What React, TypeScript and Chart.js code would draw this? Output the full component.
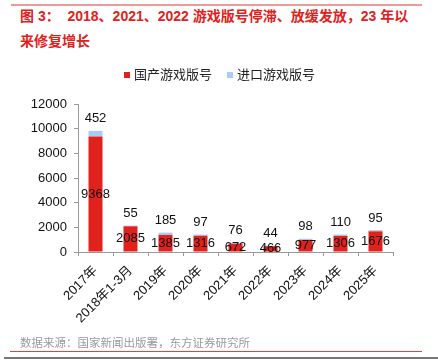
import React, { useEffect, useRef } from 'react';
import { Chart, registerables } from 'chart.js';

Chart.register(...registerables);

const categories = ['2017年', '2018年1-3月', '2019年', '2020年', '2021年', '2022年', '2023年', '2024年', '2025年'];
const domesticValues = [9368, 2085, 1385, 1316, 672, 466, 977, 1306, 1676];
const importedValues = [452, 55, 185, 97, 76, 44, 98, 110, 95];
const seriesNames = ['国产游戏版号', '进口游戏版号'];
const yMax = 12000;
const yStep = 2000;

const FONT = '"Liberation Sans", "Noto Sans CJK SC", sans-serif';
const RED = '#e1211c';
const BLUE = '#a9cbf7';

const overlayPlugin = {
  id: 'overlay',
  afterDatasetsDraw(chart: any) {
    const ctx = chart.ctx;
    ctx.save();
    ctx.font = `13px ${FONT}`;
    ctx.fillStyle = '#111';
    ctx.textAlign = 'center';
    ctx.textBaseline = 'middle';
    const m0 = chart.getDatasetMeta(0);
    const m1 = chart.getDatasetMeta(1);
    m0.data.forEach((el: any, i: number) => {
      ctx.fillText(String(domesticValues[i]), el.x, (el.y + el.base) / 2);
    });
    m1.data.forEach((el: any, i: number) => {
      ctx.fillText(String(importedValues[i]), el.x, el.y - 12);
    });
    // legend
    const items = [
      { color: RED, text: seriesNames[0], x: 124 },
      { color: BLUE, text: seriesNames[1], x: 227 },
    ];
    ctx.textAlign = 'left';
    items.forEach((it) => {
      ctx.fillStyle = it.color;
      ctx.fillRect(it.x, 72, 6, 6);
      ctx.fillStyle = '#222';
      ctx.fillText(it.text, it.x + 10, 75);
    });
    ctx.restore();
  },
};

export default function App() {
  const ref = useRef<HTMLCanvasElement>(null);
  useEffect(() => {
    if (!ref.current) return;
    const chart = new Chart(ref.current, {
      type: 'bar',
      data: {
        labels: categories,
        datasets: [
          { label: seriesNames[0], data: domesticValues, backgroundColor: RED, barPercentage: 0.4, categoryPercentage: 1 },
          { label: seriesNames[1], data: importedValues, backgroundColor: BLUE, barPercentage: 0.4, categoryPercentage: 1 },
        ],
      },
      options: {
        animation: false,
        responsive: false,
        maintainAspectRatio: false,
        layout: { padding: { top: 104, right: 45, left: 0, bottom: 0 } },
        plugins: { legend: { display: false }, tooltip: { enabled: false }, title: { display: false } },
        scales: {
          x: {
            stacked: true,
            grid: { drawOnChartArea: false, tickLength: 4, color: '#999', offset: true },
            border: { color: '#999' },
            ticks: { color: '#111', font: { size: 13, family: FONT }, minRotation: 45, maxRotation: 45, padding: 7, autoSkip: false },
            afterFit: (s: any) => { s.height = 110; },
          },
          y: {
            stacked: true,
            min: 0,
            max: yMax,
            grid: { drawOnChartArea: false, tickLength: 4, color: '#999' },
            border: { color: '#999' },
            ticks: {
              stepSize: yStep,
              color: '#111',
              font: { size: 13, family: FONT },
              padding: 7,
              callback: (v: any) => String(v),
            },
            afterFit: (s: any) => { s.width = 78; },
          },
        },
      },
      plugins: [overlayPlugin],
    });
    return () => chart.destroy();
  }, []);

  return (
    <div style={{ position: 'fixed', left: 0, top: 0, width: 438, height: 362, background: '#fff', overflow: 'hidden' }}>
      <div style={{ position: 'absolute', left: 11, top: 4, width: 411, height: 2, background: '#ee9a9a' }} />
      <div style={{ position: 'absolute', left: 20, top: 4, font: `bold 14px ${FONT}`, color: RED, lineHeight: '25px', whiteSpace: 'pre' }}>
        {'图 3：  2018、2021、2022 游戏版号停滞、放缓发放，23 年以'}
        <br />
        {'来修复增长'}
      </div>
      <canvas ref={ref} width={438} height={362} style={{ position: 'absolute', left: 0, top: 0 }} />
      <div style={{ position: 'absolute', left: 20, top: 334, font: `11.5px ${FONT}`, color: '#9a9a9a', whiteSpace: 'pre' }}>
        数据来源：国家新闻出版署，东方证券研究所
      </div>
      <div style={{ position: 'absolute', left: 10, top: 351, width: 412, height: 1, background: '#d44' }} />
      <div style={{ position: 'absolute', left: 4, top: 357, width: 434, height: 2, background: '#777' }} />
    </div>
  );
}
